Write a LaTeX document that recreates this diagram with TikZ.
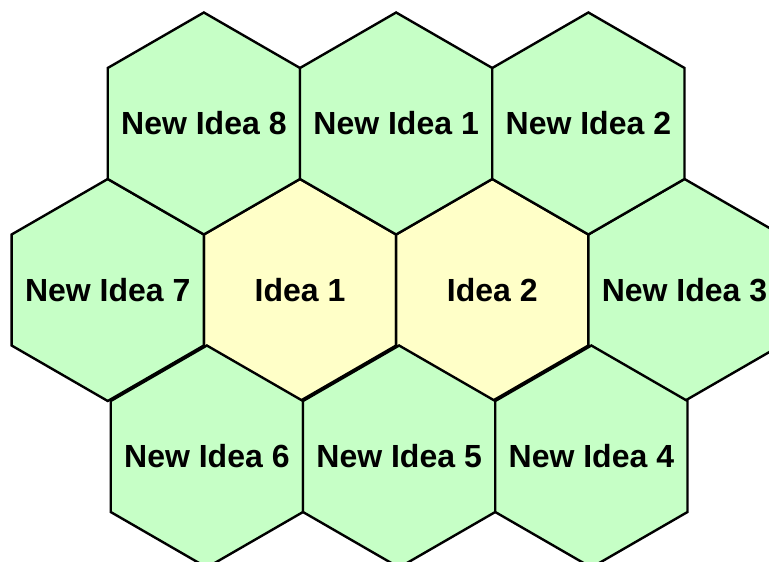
\documentclass[tikz,border=0pt]{standalone}
\usepackage{fontspec}
\setmainfont{Liberation Sans}
\usepackage{tikz}
\usetikzlibrary{positioning,shapes.geometric}
\definecolor{colornew}  {RGB}{198,255,198}
\definecolor{coloridea} {RGB}{255,255,200}
\definecolor{colortext} {RGB}{0  ,0  ,0  }

\begin{document}
\begin{tikzpicture}[
    x=1pt, y=-1pt,
    node distance = 0pt,
    base/.style={text=colortext,font={\fontsize{32}{37}\selectfont\bfseries},align=center},
    hexnode/.style={regular polygon,regular polygon sides=6,shape border rotate=30,
        minimum size=222pt,inner sep=0pt,outer sep=0pt,draw=colortext,line width=2.4pt,
        label={[base]center:#1}},
    newnode/.style={hexnode=#1,fill=colornew},
    ideanode/.style={hexnode=#1,fill=coloridea},
]
    \useasboundingbox (0,0) rectangle (769,562);
    \clip (0,0) rectangle (769,562);

    % Middle row
    \node[ideanode=Idea 1] (idea1) at (300,290) {};
    \node[ideanode=Idea 2,right=of idea1] (idea2) {};
    \node[newnode=New Idea 7,left=of idea1] (newidea7) {};
    \node[newnode=New Idea 3,right=of idea2] (newidea3) {};

    % Top row
    \node[newnode=New Idea 8,above=of idea1.corner 2] (newidea8) {};
    \node[newnode=New Idea 1,right=of newidea8] (newidea1) {};
    \node[newnode=New Idea 2,right=of newidea1] (newidea2) {};

    % Bottom row
    \node[newnode=New Idea 6,below=of idea1.corner 3,xshift=3pt] (newidea6) {};
    \node[newnode=New Idea 5,right=of newidea6] (newidea5) {};
    \node[newnode=New Idea 4,right=of newidea5] (newidea4) {};

\end{tikzpicture}
\end{document}
